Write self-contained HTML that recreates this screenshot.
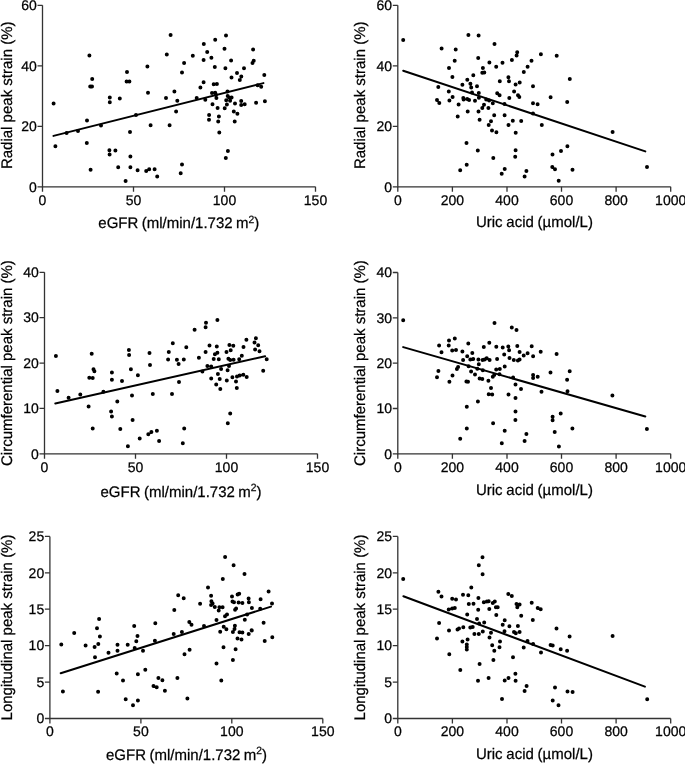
<!DOCTYPE html>
<html><head><meta charset="utf-8"><style>
html,body{margin:0;padding:0;background:#fff;width:685px;height:764px;overflow:hidden}
svg{display:block;will-change:transform}
text{font-family:"Liberation Sans",sans-serif;fill:#000;stroke:#000;stroke-width:0.25px;text-rendering:geometricPrecision}
.tl{font-size:14px}
.tt{font-size:15.3px}
.sup{font-size:10.5px}
.ax{fill:none;stroke:#333;stroke-width:1.3}
.rl{fill:none;stroke:#000;stroke-width:2;stroke-linecap:round}
.dt{fill:none;stroke:#000;stroke-width:4;stroke-linecap:round}
</style></head><body>
<svg width="685" height="764" viewBox="0 0 685 764">
<path class="ax" d="M42.5 5.3V186.8H315.5"/>
<path class="ax" d="M37.5 186.8H42.5M37.5 126.3H42.5M37.5 65.8H42.5M37.5 5.3H42.5M42.5 186.8V191.8M133.5 186.8V191.8M224.5 186.8V191.8M315.5 186.8V191.8"/>
<text class="tl" x="36.8" y="191.5" text-anchor="end">0</text>
<text class="tl" x="36.8" y="131" text-anchor="end">20</text>
<text class="tl" x="36.8" y="70.5" text-anchor="end">40</text>
<text class="tl" x="36.8" y="10" text-anchor="end">60</text>
<text class="tl" x="42.5" y="204.5" text-anchor="middle">0</text>
<text class="tl" x="133.5" y="204.5" text-anchor="middle">50</text>
<text class="tl" x="224.5" y="204.5" text-anchor="middle">100</text>
<text class="tl" x="315.5" y="204.5" text-anchor="middle">150</text>
<text class="tt" transform="translate(98.3 228.3) scale(0.9804 1)" word-spacing="-0.7">eGFR (ml/min/1.732 m<tspan class="sup" dy="-5.4">2</tspan><tspan dy="5.4">)</tspan></text>
<text class="tt" transform="translate(12 95.3) rotate(-90) scale(0.9804 1)" text-anchor="middle">Radial peak strain (%)</text>
<path class="rl" d="M53.5 135.9L263.4 83.1"/>
<path class="dt" d="M89.4 55.6h0M92.2 79h0M90.2 86.4h0M92 86.4h0M127 72h0M126.6 81.6h0M129.4 81.6h0M147.4 66.6h0M148 92.8h0M166.8 54.4h0M170.6 35h0M174.4 91.4h0M184.1 62.9h0M182 72.4h0M192.8 55.7h0M203.8 44h0M207.2 52.1h0M203.6 60.1h0M211.4 57.8h0M215.2 39.8h0M214.8 67.1h0M226 35.4h0M224.5 48.7h0M231.1 60.5h0M225.4 68.2h0M231.5 77.5h0M237 73h0M241.3 76.6h0M239.8 80h0M244 68.2h0M253.1 49.5h0M253.7 60.8h0M252.5 63.1h0M264.3 75.1h0M203.6 82.3h0M200.4 87.4h0M213.7 84.3h0M216.9 84h0M212 93.1h0M215.2 92.7h0M227.5 91.4h0M261.2 86.8h0M257.6 85.3h0M53.6 103.6h0M109.8 97.4h0M109.8 102.2h0M119.8 98.6h0M166 98h0M87 120.6h0M101 125.4h0M66.6 133h0M78 131h0M136 115h0M150.6 125.2h0M169.6 125.2h0M130 132h0M55.4 146.2h0M86.8 143h0M109.4 150.2h0M115.4 150.6h0M109.6 154.6h0M130.4 156.6h0M90.6 169.8h0M118.2 167.2h0M130.4 167.2h0M137.6 170.2h0M146.2 171h0M149.2 169.2h0M154.6 169.2h0M157.2 176.6h0M125.6 181h0M177.3 100.8h0M176.1 111.5h0M196.7 97.9h0M205.3 99.8h0M216 94.7h0M216.4 97.9h0M212.5 104.2h0M217.6 108.1h0M209.1 115.1h0M209 119.7h0M218.9 116.6h0M218.2 121.4h0M219.3 132.4h0M227.7 95.9h0M229.1 97.6h0M231.6 97.6h0M226.2 100.3h0M230.1 100.8h0M226.9 104.6h0M224.7 108.3h0M235 103.5h0M233.8 111.5h0M237.4 113.7h0M234.7 121.4h0M241.2 101h0M241.2 104.9h0M244.7 104.2h0M256.1 102.7h0M264.9 101.3h0M227.9 151.1h0M225.8 158h0M182 164.6h0M180.7 173.3h0"/>
<path class="ax" d="M397.8 5.3V186.8H670.7"/>
<path class="ax" d="M392.8 186.8H397.8M392.8 126.3H397.8M392.8 65.8H397.8M392.8 5.3H397.8M397.8 186.8V191.8M452.4 186.8V191.8M507 186.8V191.8M561.5 186.8V191.8M616.1 186.8V191.8M670.7 186.8V191.8"/>
<text class="tl" x="392.1" y="191.5" text-anchor="end">0</text>
<text class="tl" x="392.1" y="131" text-anchor="end">20</text>
<text class="tl" x="392.1" y="70.5" text-anchor="end">40</text>
<text class="tl" x="392.1" y="10" text-anchor="end">60</text>
<text class="tl" x="397.8" y="204.5" text-anchor="middle">0</text>
<text class="tl" x="452.4" y="204.5" text-anchor="middle">200</text>
<text class="tl" x="507" y="204.5" text-anchor="middle">400</text>
<text class="tl" x="561.5" y="204.5" text-anchor="middle">600</text>
<text class="tl" x="616.1" y="204.5" text-anchor="middle">800</text>
<text class="tl" x="670.7" y="204.5" text-anchor="middle">1000</text>
<text class="tt" transform="translate(475.9 226.5) scale(0.9804 1)" word-spacing="-0.4">Uric acid (&#181;mol/L)</text>
<text class="tt" transform="translate(365.2 95.3) rotate(-90) scale(0.9804 1)" text-anchor="middle">Radial peak strain (%)</text>
<path class="rl" d="M403.2 70.7L645.3 151.4"/>
<path class="dt" d="M403.2 40.1h0M441.6 48.6h0M455.7 49.5h0M468.4 34.9h0M478.6 35.4h0M494.5 43.9h0M454.7 60.7h0M478.2 58h0M449 68.1h0M452.4 77h0M489.4 62.5h0M482.9 68.1h0M482.3 72.8h0M484.3 72.6h0M473.3 75.2h0M467.3 79.7h0M462.4 84.8h0M470.4 83.8h0M471.2 87.5h0M477 86.2h0M438.3 87.1h0M448.8 91.6h0M472 92.4h0M478.8 93h0M496.2 66.8h0M502.5 62.7h0M511.9 60.1h0M517.2 52.3h0M516.6 55.6h0M531.5 60.7h0M527.6 66.8h0M523.8 71.9h0M508.4 77.3h0M499.8 81.3h0M509 81.3h0M515.6 84.4h0M519.7 82.6h0M533 86.2h0M514.1 91.4h0M497.2 93.2h0M499.6 95.2h0M518 95.2h0M452.6 96.9h0M540.9 54.3h0M556.7 55.7h0M569.8 79h0M550.6 97.3h0M519.3 97.1h0M437 100h0M439.3 103h0M449.4 100.6h0M458.6 104.4h0M463.3 98.1h0M463.6 99.6h0M467.2 98.9h0M469.1 99.9h0M475 100.8h0M478.9 97.8h0M486.2 99.6h0M489.1 100.6h0M492.8 103.2h0M484 104.7h0M482.3 108.1h0M488.4 108.1h0M467.7 111.6h0M478.5 111.6h0M457.7 116.4h0M479.6 119.7h0M494.2 115.2h0M504.6 115.2h0M504.5 104h0M509.3 98.1h0M491 121.2h0M488.7 125.1h0M512.8 120.8h0M521.2 121.1h0M508.5 125.1h0M492 130.5h0M496.4 132.2h0M515.7 132.7h0M466.5 142.9h0M477.8 150.6h0M493.3 158h0M515.6 150.2h0M515.2 156.8h0M466.7 164.7h0M460.2 170.3h0M504.7 169h0M501.7 173.7h0M526.4 170.9h0M524.6 176.6h0M533 103.3h0M537.6 104.2h0M567.2 102.1h0M533 113.4h0M541.8 125.1h0M612.6 131.9h0M567.4 146.2h0M561 151h0M552.5 154.6h0M552.3 167h0M555 169.3h0M572.5 169.8h0M558.7 180.8h0M647 167h0"/>
<path class="ax" d="M44.5 272.3V453.8H317.5"/>
<path class="ax" d="M39.5 453.8H44.5M39.5 408.4H44.5M39.5 363.1H44.5M39.5 317.7H44.5M39.5 272.3H44.5M44.5 453.8V458.8M135.5 453.8V458.8M226.5 453.8V458.8M317.5 453.8V458.8"/>
<text class="tl" x="38.8" y="458.5" text-anchor="end">0</text>
<text class="tl" x="38.8" y="413.1" text-anchor="end">10</text>
<text class="tl" x="38.8" y="367.8" text-anchor="end">20</text>
<text class="tl" x="38.8" y="322.4" text-anchor="end">30</text>
<text class="tl" x="38.8" y="277" text-anchor="end">40</text>
<text class="tl" x="44.5" y="471.5" text-anchor="middle">0</text>
<text class="tl" x="135.5" y="471.5" text-anchor="middle">50</text>
<text class="tl" x="226.5" y="471.5" text-anchor="middle">100</text>
<text class="tl" x="317.5" y="471.5" text-anchor="middle">150</text>
<text class="tt" transform="translate(100.5 496.5) scale(0.9804 1)" word-spacing="-0.7">eGFR (ml/min/1.732 m<tspan class="sup" dy="-5.4">2</tspan><tspan dy="5.4">)</tspan></text>
<text class="tt" transform="translate(12 363.1) rotate(-90) scale(0.9804 1)" text-anchor="middle">Circumferential peak strain (%)</text>
<path class="rl" d="M55.3 403.5L265.1 356.3"/>
<path class="dt" d="M55.9 355.9h0M91.7 353.7h0M128.9 350h0M129.1 355.1h0M149.5 353.1h0M172.8 343.3h0M168.8 351.9h0M168.1 359.4h0M176.9 359.8h0M217.4 319.9h0M206 322.8h0M205.6 327.2h0M194.6 329.7h0M186.3 347.3h0M183.8 359.5h0M198.9 357.7h0M209.5 345.6h0M205.6 351.9h0M216.8 346.5h0M217.4 352.7h0M214.9 354.3h0M213.7 359.1h0M218.8 359.3h0M229.4 345h0M233.3 345.8h0M230.7 350.2h0M226.5 352.1h0M228.4 358.7h0M230.2 359.9h0M233.6 359.7h0M239.2 359.3h0M241.8 355.8h0M243.5 346.9h0M246.4 339.8h0M255.9 338.2h0M254.5 342.5h0M258.2 345.2h0M255.1 349.6h0M259.5 351.2h0M266.7 359.3h0M57.4 391.1h0M68.6 397.8h0M80.3 394.5h0M89.3 377.8h0M92.7 378h0M93.5 369.2h0M94.4 371.2h0M88.6 406.6h0M92.7 428.5h0M103.4 391.7h0M111.9 372.5h0M111.9 379.8h0M122 381h0M117.3 401.5h0M111.1 411.5h0M111.9 416.6h0M120.3 429.1h0M127.9 446.2h0M130.9 369.2h0M137.9 375.3h0M132 395.6h0M132.6 419.9h0M139.7 438.5h0M148.3 434.2h0M151.4 432.1h0M156.9 430.7h0M159.1 440.9h0M150 364.9h0M152.8 394.1h0M172 394.1h0M178.6 364.1h0M179 381.9h0M207.4 366.1h0M211.2 366.4h0M202.4 371.4h0M221.1 369h0M229 366.1h0M227.6 370.2h0M217.9 374h0M211.2 378.4h0M219.7 379.1h0M216.2 384.5h0M220.3 388.9h0M226.8 380.5h0M232.4 377.2h0M237 376.5h0M239.7 375.4h0M243.3 374.7h0M246.7 376.9h0M236 381.6h0M236.8 388.1h0M263.2 370.8h0M230.2 413.4h0M227.8 423.2h0M184.2 428.4h0M182.8 443.3h0"/>
<path class="ax" d="M397.8 272.5V453.8H670.7"/>
<path class="ax" d="M392.8 453.8H397.8M392.8 408.5H397.8M392.8 363.1H397.8M392.8 317.8H397.8M392.8 272.5H397.8M397.8 453.8V458.8M452.4 453.8V458.8M507 453.8V458.8M561.5 453.8V458.8M616.1 453.8V458.8M670.7 453.8V458.8"/>
<text class="tl" x="392.1" y="458.5" text-anchor="end">0</text>
<text class="tl" x="392.1" y="413.2" text-anchor="end">10</text>
<text class="tl" x="392.1" y="367.8" text-anchor="end">20</text>
<text class="tl" x="392.1" y="322.5" text-anchor="end">30</text>
<text class="tl" x="392.1" y="277.2" text-anchor="end">40</text>
<text class="tl" x="397.8" y="471.5" text-anchor="middle">0</text>
<text class="tl" x="452.4" y="471.5" text-anchor="middle">200</text>
<text class="tl" x="507" y="471.5" text-anchor="middle">400</text>
<text class="tl" x="561.5" y="471.5" text-anchor="middle">600</text>
<text class="tl" x="616.1" y="471.5" text-anchor="middle">800</text>
<text class="tl" x="670.7" y="471.5" text-anchor="middle">1000</text>
<text class="tt" transform="translate(475.9 495) scale(0.9804 1)" word-spacing="-0.4">Uric acid (&#181;mol/L)</text>
<text class="tt" transform="translate(365.3 363.1) rotate(-90) scale(0.9804 1)" text-anchor="middle">Circumferential peak strain (%)</text>
<path class="rl" d="M403.2 347.1L645.3 416.5"/>
<path class="dt" d="M403.2 320.3h0M439.1 345.4h0M441.5 352.3h0M449 340.4h0M448.7 345.4h0M454.8 338.4h0M452.2 350.6h0M456 349.9h0M462.4 351.5h0M468.3 343.5h0M467.2 356.2h0M472.3 352.9h0M463.1 359.9h0M470.3 359.5h0M473.2 359.1h0M458.1 367h0M456.9 369h0M468.6 366.3h0M494.5 323.1h0M511.8 327.5h0M516.5 330.1h0M489.3 342.7h0M483.8 347.1h0M496.3 346.8h0M502.7 347.4h0M508.3 346.4h0M509.1 350.3h0M517.3 346h0M531.7 346.2h0M540.7 351.8h0M519.6 352h0M527.6 353.2h0M523.7 355.5h0M533.1 356.2h0M504.2 354.4h0M509.5 357.9h0M513.8 360h0M517.9 360.5h0M519.6 359.6h0M497.1 359.1h0M478.4 359.6h0M482.6 360h0M484.6 359.6h0M486.7 358.2h0M489.6 360h0M478.8 364.3h0M504.7 366.5h0M556.6 354h0M550.5 372.6h0M569.7 371.3h0M567.1 379.7h0M567.5 391.2h0M612.4 395.4h0M438.4 370.9h0M437 377.2h0M452.5 375.4h0M449.4 381.8h0M471.1 371.4h0M475 374.6h0M477.3 368.8h0M482.8 370.3h0M479.6 378.5h0M482.3 378.9h0M466.4 381.5h0M468 381.8h0M488.4 380.7h0M491 388.1h0M488.7 394.3h0M492.2 394.6h0M477.9 401.5h0M466.8 406.7h0M496.2 369.6h0M499.8 369.1h0M494.2 375h0M492.8 376.7h0M499.5 374.2h0M508.5 394.5h0M513.1 377.5h0M515.5 384.5h0M521 388.9h0M515.5 398h0M515.5 411.6h0M533.1 375.1h0M533.1 378.1h0M537.7 376.8h0M541.5 391.8h0M560.7 413.4h0M515.4 420.1h0M493.1 423.2h0M466.8 428.6h0M460.2 438.8h0M504.7 430.8h0M501.8 443.3h0M526.4 434.1h0M524.6 441.1h0M552.6 416.7h0M552.6 420.2h0M554.7 432.1h0M572.4 428.6h0M558.9 446.4h0M646.9 429.1h0"/>
<path class="ax" d="M49.9 536.4V718.5H322.8"/>
<path class="ax" d="M44.9 718.5H49.9M44.9 682.1H49.9M44.9 645.7H49.9M44.9 609.2H49.9M44.9 572.8H49.9M44.9 536.4H49.9M49.9 718.5V723.5M140.9 718.5V723.5M231.8 718.5V723.5M322.8 718.5V723.5"/>
<text class="tl" x="44.2" y="723.2" text-anchor="end">0</text>
<text class="tl" x="44.2" y="686.8" text-anchor="end">5</text>
<text class="tl" x="44.2" y="650.4" text-anchor="end">10</text>
<text class="tl" x="44.2" y="613.9" text-anchor="end">15</text>
<text class="tl" x="44.2" y="577.5" text-anchor="end">20</text>
<text class="tl" x="44.2" y="541.1" text-anchor="end">25</text>
<text class="tl" x="49.9" y="736.2" text-anchor="middle">0</text>
<text class="tl" x="140.9" y="736.2" text-anchor="middle">50</text>
<text class="tl" x="231.8" y="736.2" text-anchor="middle">100</text>
<text class="tl" x="322.8" y="736.2" text-anchor="middle">150</text>
<text class="tt" transform="translate(106 759.7) scale(0.9804 1)" word-spacing="-0.7">eGFR (ml/min/1.732 m<tspan class="sup" dy="-5.4">2</tspan><tspan dy="5.4">)</tspan></text>
<text class="tt" transform="translate(12 627.5) rotate(-90) scale(0.9804 1)" text-anchor="middle">Longitudinal peak strain (%)</text>
<path class="rl" d="M60.7 673.2L271 606.6"/>
<path class="dt" d="M74.2 633h0M99.1 619.1h0M97 628.3h0M99.9 636.5h0M134.2 626h0M137.5 636.1h0M155.3 623.2h0M174.3 609.9h0M178.2 595.2h0M183.7 598.2h0M173.7 634h0M181.9 632h0M225.1 557h0M233.6 565.2h0M244.5 574.1h0M222.8 578.9h0M208 587.4h0M211.1 595.7h0M200.1 603.8h0M211.4 601.2h0M212.6 603.5h0M211.1 604.9h0M214.8 607.1h0M219.4 607.3h0M222.6 607.3h0M218.7 610.6h0M232 596.4h0M237.6 594.5h0M239.2 593.8h0M232.5 601.5h0M234 602.2h0M238.6 602.5h0M242.4 603h0M248.6 598.4h0M248.9 602.2h0M251.9 608.1h0M235.1 609.7h0M236.1 608.6h0M225 616.2h0M227 614.5h0M268.6 591.6h0M260.6 599.2h0M272 603.4h0M260.2 608.7h0M263.6 622.8h0M251.8 630.4h0M61.3 644.4h0M85.6 645.4h0M94.6 647.1h0M98.3 644h0M95 657.3h0M108.5 652.8h0M117.5 644.8h0M117.5 650.8h0M127.7 644.8h0M136.3 641.3h0M134.7 647.9h0M143 650.8h0M154.9 640.7h0M184.5 654.2h0M62.9 691.6h0M98.1 691.8h0M116.7 673.6h0M123 680.6h0M137.9 674.3h0M145.3 669.8h0M125.7 699.2h0M133 705.3h0M137.9 700.6h0M158.4 677.9h0M162.4 680.2h0M153.5 685.9h0M156.7 687.3h0M164.9 690.8h0M177.4 678.1h0M187.4 698.6h0M247.1 614.5h0M216.5 620.1h0M244.8 619.7h0M189.3 622.1h0M191.5 624.7h0M204 626h0M223.7 626.7h0M226.4 629.3h0M220.2 631.7h0M234.9 625.8h0M234.5 628.9h0M232.9 631.9h0M239.5 632.3h0M242.4 632.6h0M251.6 630.2h0M248.7 633.9h0M237.5 638.5h0M241.5 639.4h0M264.7 641.1h0M272.3 637.2h0M189.6 649.7h0M223.5 647.3h0M235.6 649.3h0M232.9 659.9h0M216.5 663.5h0M221.3 680.4h0"/>
<path class="ax" d="M397.8 536.4V718.5H670.7"/>
<path class="ax" d="M392.8 718.5H397.8M392.8 682.1H397.8M392.8 645.7H397.8M392.8 609.2H397.8M392.8 572.8H397.8M392.8 536.4H397.8M397.8 718.5V723.5M452.4 718.5V723.5M507 718.5V723.5M561.5 718.5V723.5M616.1 718.5V723.5M670.7 718.5V723.5"/>
<text class="tl" x="392.1" y="723.2" text-anchor="end">0</text>
<text class="tl" x="392.1" y="686.8" text-anchor="end">5</text>
<text class="tl" x="392.1" y="650.4" text-anchor="end">10</text>
<text class="tl" x="392.1" y="613.9" text-anchor="end">15</text>
<text class="tl" x="392.1" y="577.5" text-anchor="end">20</text>
<text class="tl" x="392.1" y="541.1" text-anchor="end">25</text>
<text class="tl" x="397.8" y="736.2" text-anchor="middle">0</text>
<text class="tl" x="452.4" y="736.2" text-anchor="middle">200</text>
<text class="tl" x="507" y="736.2" text-anchor="middle">400</text>
<text class="tl" x="561.5" y="736.2" text-anchor="middle">600</text>
<text class="tl" x="616.1" y="736.2" text-anchor="middle">800</text>
<text class="tl" x="670.7" y="736.2" text-anchor="middle">1000</text>
<text class="tt" transform="translate(475.9 759) scale(0.9804 1)" word-spacing="-0.4">Uric acid (&#181;mol/L)</text>
<text class="tt" transform="translate(365.2 627.5) rotate(-90) scale(0.9804 1)" text-anchor="middle">Longitudinal peak strain (%)</text>
<path class="rl" d="M403.4 596.2L644.9 686.6"/>
<path class="dt" d="M403.2 579h0M438.4 591.7h0M441.5 596.5h0M452.2 598.7h0M456 599.4h0M463 594.7h0M468.3 595.2h0M471.3 587.4h0M468.8 604h0M473.5 603.7h0M448.7 609.6h0M452.2 608.6h0M454.8 608h0M482.5 557.2h0M478.8 565.2h0M482.6 574.3h0M508.3 594h0M511.8 595.9h0M478.4 598.1h0M483.8 602.3h0M486.9 601.6h0M488.7 601.2h0M492.8 603.1h0M494.8 601.4h0M495.9 607.2h0M497.7 607.2h0M516.5 604h0M519.6 604.5h0M517.3 607.2h0M531.7 602.8h0M537.7 608h0M540.7 609.2h0M478.2 609.8h0M489.3 609h0M556.5 628.5h0M569.6 636.5h0M612.6 636.1h0M550.6 645h0M552.7 645.6h0M560.7 649.2h0M567.1 650.7h0M541 652.4h0M467.2 614.6h0M439.1 623h0M449 630.6h0M457.5 629.4h0M459 628.6h0M463.3 627.2h0M470.3 627.4h0M472.7 627.1h0M474.4 634.1h0M437 638.5h0M462.4 641.5h0M467.6 639.4h0M466.8 644.6h0M466.8 647.1h0M466.8 649.6h0M449.3 654.3h0M496.3 614.9h0M521.2 615.8h0M532.8 619.9h0M477 619h0M479.1 623.4h0M484.2 622.4h0M478.8 634.1h0M482.8 631.5h0M491 632.7h0M489.5 637.4h0M504.7 620.2h0M502.7 624.8h0M509.4 626.3h0M517.9 625.9h0M504.5 631.3h0M514 632.1h0M515.8 633.3h0M519.6 632.1h0M500 641.5h0M492.2 645.3h0M499.5 647.3h0M494.3 650.8h0M527.5 640.9h0M533.1 644.1h0M523.7 647.6h0M513 657.2h0M493.4 660h0M479.6 663.9h0M460.3 670h0M478 680.7h0M488.6 678h0M504.7 680.4h0M508.5 678h0M515.4 673.8h0M515.6 680.7h0M502 698.9h0M526.6 686h0M524.6 691.1h0M555 687.5h0M567.5 691.6h0M572.6 691.9h0M552.7 700.6h0M558.5 705.2h0M647.2 699.3h0"/>
</svg>
</body></html>
